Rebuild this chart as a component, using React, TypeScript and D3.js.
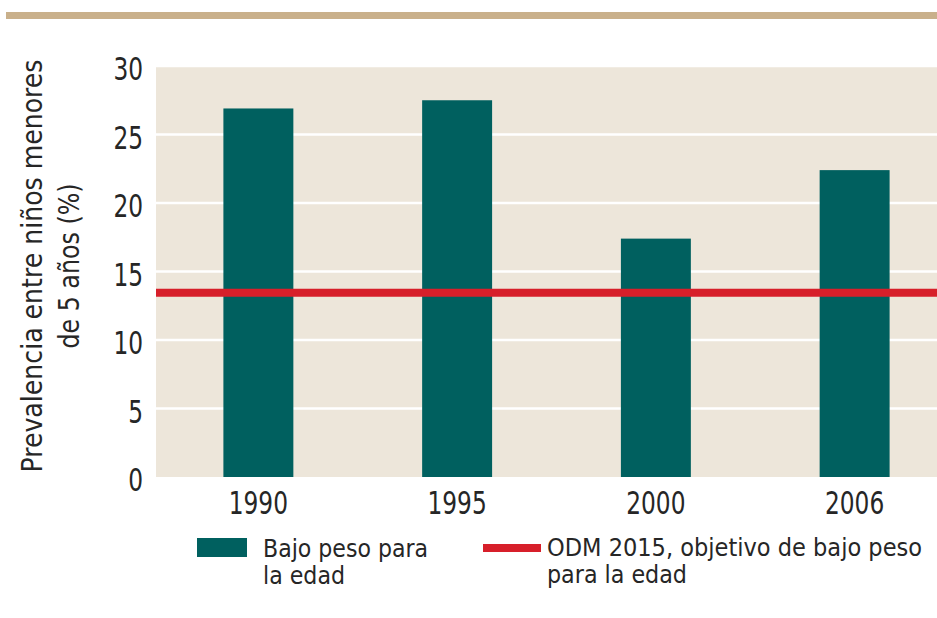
import React, { useEffect, useRef } from 'react';
import * as d3 from 'd3';

const years = ['1990', '1995', '2000', '2006'];
const underweight = [26.9, 27.5, 17.4, 22.4];
const mdgTarget = 13.45;
const yTicks = [0, 5, 10, 15, 20, 25, 30];
const titleLines = ['Prevalencia entre niños menores', 'de 5 años (%)'];
const legendBar = ['Bajo peso para', 'la edad'];
const legendLine = ['ODM 2015, objetivo de bajo peso', 'para la edad'];

const FONT = '"DejaVu Sans Condensed", "Roboto", sans-serif';
const TEXT = '#262626';
const TEAL = '#00605f';
const RED = '#d71f2a';

// the original font is a narrow grotesque; squeeze the condensed fallback to its widths
const DIGIT_W = 14.8;

function App() {
  const ref = useRef<SVGSVGElement | null>(null);

  useEffect(() => {
    const svg = d3.select(ref.current);
    svg.selectAll('*').remove();

    const left = 156;
    const right = 937;
    const top = 66;
    const bottom = 477;

    // tan rule at the top
    svg.append('rect').attr('x', 6).attr('y', 12).attr('width', 931).attr('height', 7).attr('fill', '#c9b08b');

    const y = d3.scaleLinear().domain([0, 30]).range([bottom, top]);
    const x = d3.scaleBand<string>()
      .domain(years)
      .range([159, 954])
      .paddingInner(0.648)
      .paddingOuter(0.324);

    svg.append('rect')
      .attr('x', left).attr('y', y(30))
      .attr('width', right - left).attr('height', y(0) - y(30))
      .attr('fill', '#ede6da');

    const g = svg.append('g');
    g.selectAll('line.grid').data(yTicks.filter(d => d > 0)).enter().append('line')
      .attr('class', 'grid')
      .attr('x1', left).attr('x2', right)
      .attr('y1', d => y(d)).attr('y2', d => y(d))
      .attr('stroke', '#ffffff').attr('stroke-width', 2.5);

    g.selectAll('text.ytick').data(yTicks).enter().append('text')
      .attr('class', 'ytick')
      .attr('x', 143).attr('y', d => y(d) + 14)
      .attr('text-anchor', 'end')
      .attr('font-family', FONT).attr('font-size', 32).attr('fill', TEXT)
      .attr('textLength', d => String(d).length * DIGIT_W)
      .attr('lengthAdjust', 'spacingAndGlyphs')
      .text(d => d);

    g.selectAll('rect.bar').data(underweight).enter().append('rect')
      .attr('class', 'bar')
      .attr('x', (d, i) => x(years[i]) as number)
      .attr('y', d => y(d))
      .attr('width', x.bandwidth())
      .attr('height', d => y(0) - y(d))
      .attr('fill', TEAL);

    g.append('line')
      .attr('x1', left).attr('x2', right)
      .attr('y1', y(mdgTarget)).attr('y2', y(mdgTarget))
      .attr('stroke', RED).attr('stroke-width', 8);

    g.selectAll('text.xtick').data(years).enter().append('text')
      .attr('class', 'xtick')
      .attr('x', d => (x(d) as number) + x.bandwidth() / 2)
      .attr('y', 514)
      .attr('text-anchor', 'middle')
      .attr('font-family', FONT).attr('font-size', 32).attr('fill', TEXT)
      .attr('textLength', d => d.length * DIGIT_W)
      .attr('lengthAdjust', 'spacingAndGlyphs')
      .text(d => d);

    // y axis title, two rotated lines
    const titleWidths = [413, 165];
    titleLines.forEach((t, i) => {
      svg.append('text')
        .attr('transform', `translate(${42 + i * 37},266) rotate(-90)`)
        .attr('text-anchor', 'middle')
        .attr('font-family', FONT).attr('font-size', 28).attr('fill', TEXT)
        .attr('textLength', titleWidths[i])
        .attr('lengthAdjust', 'spacingAndGlyphs')
        .text(t);
    });

    // legend
    svg.append('rect').attr('x', 197).attr('y', 538).attr('width', 50).attr('height', 19).attr('fill', TEAL);
    const barWidths = [165, 82];
    legendBar.forEach((t, i) => {
      svg.append('text')
        .attr('x', 263).attr('y', 557 + i * 27)
        .attr('font-family', FONT).attr('font-size', 24).attr('fill', TEXT)
        .attr('textLength', barWidths[i])
        .attr('lengthAdjust', 'spacingAndGlyphs')
        .text(t);
    });

    svg.append('line').attr('x1', 483).attr('x2', 541).attr('y1', 548).attr('y2', 548)
      .attr('stroke', RED).attr('stroke-width', 8);
    const lineWidths = [375, 140];
    legendLine.forEach((t, i) => {
      svg.append('text')
        .attr('x', 547).attr('y', 556 + i * 27)
        .attr('font-family', FONT).attr('font-size', 24).attr('fill', TEXT)
        .attr('textLength', lineWidths[i])
        .attr('lengthAdjust', 'spacingAndGlyphs')
        .text(t);
    });
  }, []);

  return (
    <svg
      ref={ref}
      width={937}
      height={618}
      style={{ position: 'absolute', left: 0, top: 0, background: '#ffffff' }}
    />
  );
}

export default App;
